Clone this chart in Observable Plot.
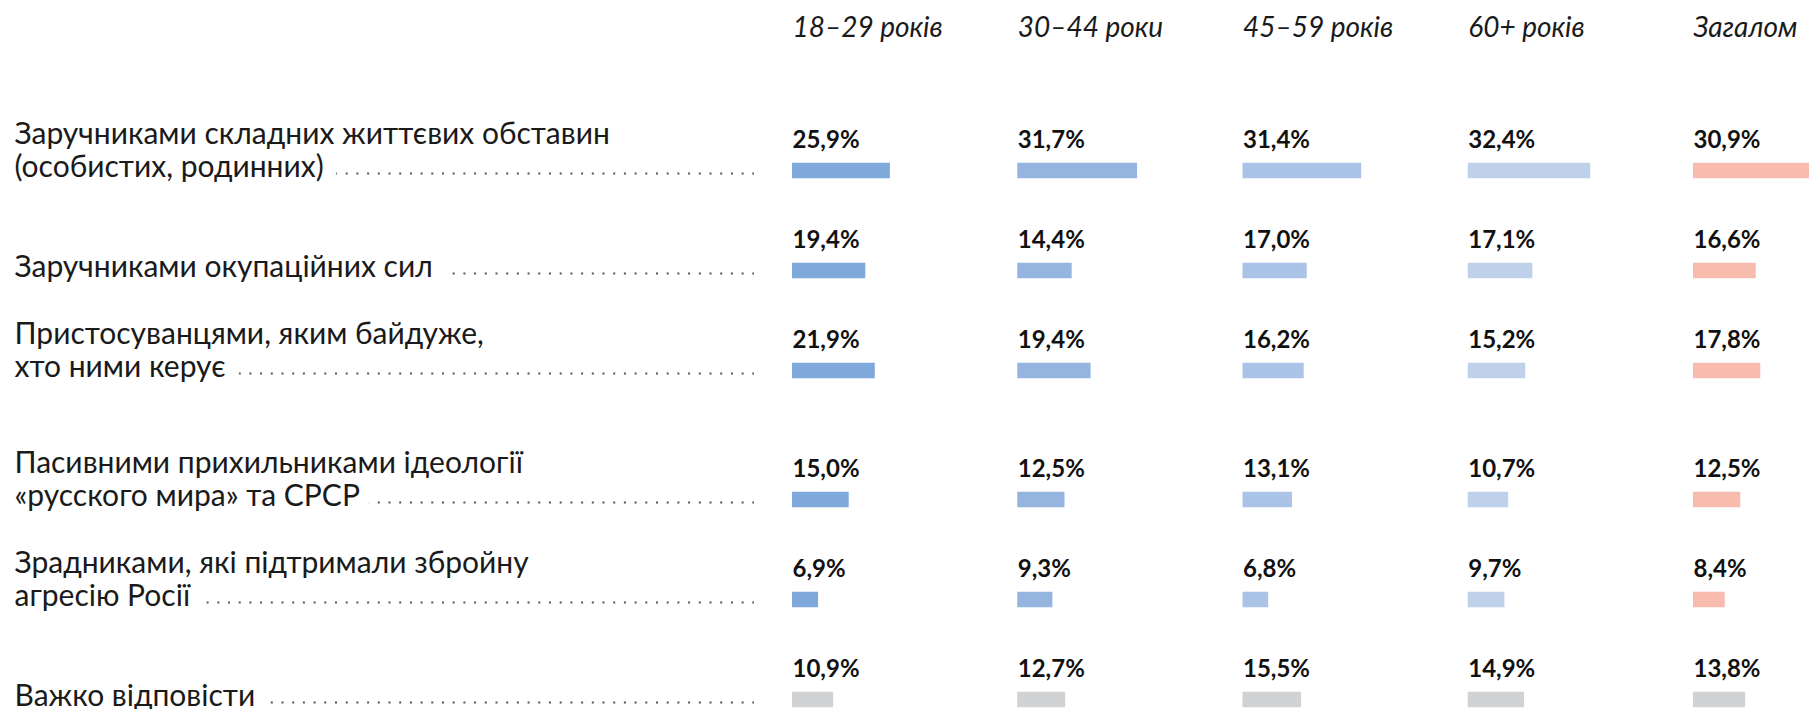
<!DOCTYPE html>
<html>
<head>
<meta charset="utf-8">
<script src="https://cdn.jsdelivr.net/npm/d3@7"></script>
<script src="https://cdn.jsdelivr.net/npm/@observablehq/plot@0.6"></script>
<style>
  html, body { margin: 0; padding: 0; background: #fff; }
  #chart { display: flex; flex-direction: row; width: 1809px; }
  #chart svg { flex: none; max-width: none; }
</style>
</head>
<body>
<div id="chart"></div>
<script>
// ---- Data ----
const categories = [
  "Заручниками складних життєвих обставин\n(особистих, родинних)",
  "Заручниками окупаційних сил",
  "Пристосуванцями, яким байдуже,\nхто ними керує",
  "Пасивними прихильниками ідеології\n«русского мира» та СРСР",
  "Зрадниками, які підтримали збройну\nагресію Росії",
  "Важко відповісти"
];
// the chart shows the answers in two visual blocks of three rows
const categoryBlock = [0, 0, 0, 1, 1, 1];
const groups = ["18–29 років", "30–44 роки", "45–59 років", "60+ років", "Загалом"];
const values1829 = [25.9, 19.4, 21.9, 15.0, 6.9, 10.9];
const values3044 = [31.7, 14.4, 19.4, 12.5, 9.3, 12.7];
const values4559 = [31.4, 17.0, 16.2, 13.1, 6.8, 15.5];
const values60 = [32.4, 17.1, 15.2, 10.7, 9.7, 14.9];
const valuesTotal = [30.9, 16.6, 17.8, 12.5, 8.4, 13.8];
const groupColors = ["#80a9db", "#95b5e0", "#abc3e6", "#bfd0eb", "#f8bcae"];
const noAnswerColor = "#d1d2d4";

// ---- Tables built from the arrays ----
const seriesByGroup = [values1829, values3044, values4559, values60, valuesTotal];
const slotOf = ci => ci - categoryBlock.indexOf(categoryBlock[ci]);
const labelRows = categories.map((c, ci) => ({category: c, block: categoryBlock[ci], slot: slotOf(ci)}));
const table = [];
groups.forEach((g, gi) => {
  seriesByGroup[gi].forEach((v, ci) => {
    table.push({group: g, category: categories[ci], block: categoryBlock[ci], slot: slotOf(ci),
                value: v, key: ci === categories.length - 1 ? "none" : g});
  });
});
const fmt = v => v.toFixed(1).replace(".", ",") + "%";

const W = 1809, H = 709, leftW = 792;
const font = "Lato, 'Open Sans', sans-serif";
const yScale = {type: "point", domain: [0, 1, 2], range: [169, 370], padding: 0, axis: null};
const fyScale = {domain: [0, 1], paddingInner: 0, paddingOuter: 0, round: false, axis: null};
const mTop = 0, mBottom = 51;

// ---- Left part: category labels with dotted leaders ----
const labelOpts = {
  fy: "block", y: "slot", text: "category", frameAnchor: "left", textAnchor: "start",
  lineAnchor: "bottom", dy: 6, lineHeight: 1.1, fontSize: 30
};
const left = Plot.plot({
  width: leftW, height: H,
  marginLeft: 14, marginRight: 38, marginTop: mTop, marginBottom: mBottom,
  x: {domain: [0, 1], axis: null},
  y: yScale,
  fy: fyScale,
  style: {fontFamily: font, background: "#fff", overflow: "visible"},
  marks: [
    Plot.ruleY(labelRows, {fy: "block", y: "slot", dy: 3, stroke: "#555", strokeWidth: 2, strokeDasharray: "2,8.7"}),
    // white knock-out behind the labels so the leader starts just after the text
    Plot.text(labelRows, {...labelOpts, fill: "white", stroke: "white", strokeWidth: 28, strokeLinejoin: "round"}),
    Plot.text(labelRows, {...labelOpts, fill: "#1a1a1a"})
  ]
});

// ---- Right part: faceted bars ----
const rightW = W - leftW;
const pxPerPct = 3.78;
const padInner = 0.485;
const step = rightW / (groups.length - padInner);
const bandW = step * (1 - padInner);

const right = Plot.plot({
  width: rightW, height: H,
  marginLeft: 0, marginRight: 0, marginTop: mTop, marginBottom: mBottom,
  fx: {domain: groups, paddingInner: padInner, paddingOuter: 0, round: false, axis: null},
  fy: fyScale,
  x: {domain: [0, bandW / pxPerPct], axis: null},
  y: yScale,
  color: {domain: [...groups, "none"], range: [...groupColors, noAnswerColor]},
  style: {fontFamily: font, background: "#fff", overflow: "visible"},
  marks: [
    Plot.ruleY(table, {fx: "group", fy: "block", y: "slot", x1: 0, x2: "value", stroke: "key", strokeWidth: 15.5}),
    Plot.text(table, {
      fx: "group", fy: "block", y: "slot", x: 0, text: d => fmt(d.value), textAnchor: "start",
      lineAnchor: "bottom", dy: -23, fontSize: 24, fontWeight: "bold", fill: "#111"
    }),
    Plot.text(groups, {
      fx: d => d, fy: () => 0, text: d => d, frameAnchor: "top-left", textAnchor: "start",
      lineAnchor: "bottom", dy: 36, fontSize: 28, fontStyle: "italic", fill: "#1a1a1a"
    })
  ]
});

document.getElementById("chart").append(left, right);
</script>
</body>
</html>
